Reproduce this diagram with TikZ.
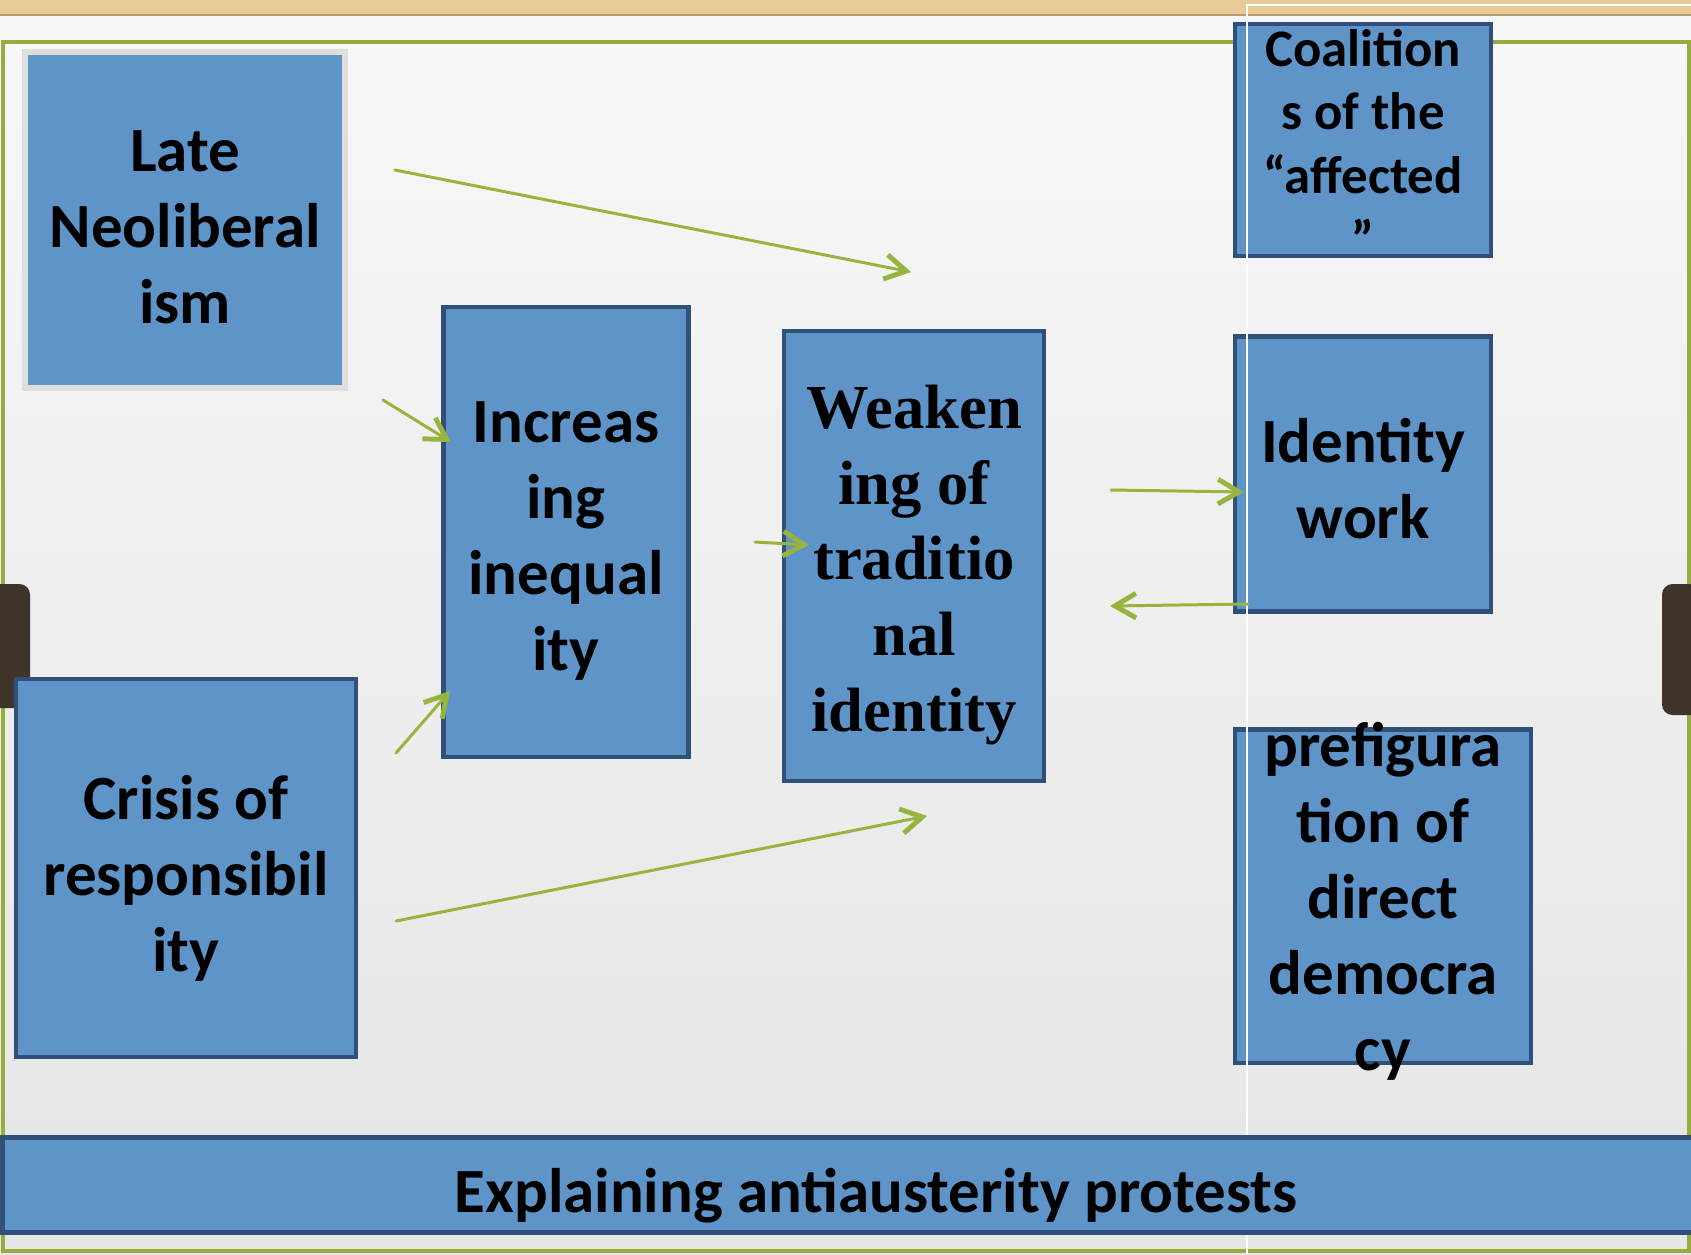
\documentclass[tikz,border=0pt]{standalone}
\usepackage{fontspec}
\setmainfont{Carlito}
\newfontfamily\serifbold{Liberation Serif}
\usetikzlibrary{arrows.meta}

\definecolor{boxfill}{RGB}{95,148,200}
\definecolor{boxedge}{RGB}{48,80,120}
\definecolor{arrowgreen}{RGB}{152,180,62}
\definecolor{framegreen}{RGB}{150,172,60}
\definecolor{tanband}{RGB}{233,203,152}
\definecolor{tanedge}{RGB}{185,155,112}
\definecolor{tabdark}{RGB}{62,52,42}
\definecolor{greyedge}{RGB}{222,222,222}

\tikzset{
  blockbox/.style={draw=boxedge, fill=boxfill, line width=1.2pt, inner sep=0pt},
  blocktext/.style={inner sep=0pt, align=center, yshift=-0.08cm,
    font=\bfseries\fontsize{17.9}{21.6}\selectfont},
  flow/.style={draw=arrowgreen, line width=0.85pt, line cap=round,
    -{Straight Barb[length=6pt,width=7pt,line width=1.4pt]}}
}

\begin{document}
\begin{tikzpicture}[x=0.01cm, y=-0.01cm]
  \useasboundingbox (0,0) rectangle (1691,1254);

  %%%%%%%%%%%%%%%%%%%%%% BACKGROUND %%%%%%%%%%%%%%%%%%%%%%
  \shade[top color=black!3, bottom color=black!10] (0,0) rectangle (1691,1254);
  \fill[tanband] (0,0) rectangle (1691,15);
  \draw[tanedge, line width=0.6pt] (0,15) -- (1691,15);
  \draw[framegreen, line width=0.9pt] (3,1251) -- (3,42) -- (1689,42) -- (1689,1251) -- cycle;
  \fill[tabdark, rounded corners=3pt] (-10,584) rectangle (30,708);
  \fill[tabdark, rounded corners=3pt] (1662,584) rectangle (1700,715);

  %%%%%%%%%%%%%%%%%%%%%% BOXES %%%%%%%%%%%%%%%%%%%%%%
  \node[blockbox, draw=greyedge, line width=1.7pt, minimum width=3.2cm, minimum height=3.35cm]
    (lateneo) at (185,220) {};
  \node[blockbox, minimum width=3.4cm, minimum height=3.78cm] (crisis) at (186,868) {};
  \node[blockbox, minimum width=2.45cm, minimum height=4.5cm] (ineq) at (566,532) {};
  \node[blockbox, minimum width=2.6cm, minimum height=4.49cm] (weaken) at (914,556) {};
  \node[blockbox, minimum width=2.56cm, minimum height=2.32cm] (coalit) at (1363,140) {};
  \node[blockbox, minimum width=2.56cm, minimum height=2.75cm] (identity) at (1363,474) {};
  \node[blockbox, minimum width=2.96cm, minimum height=3.33cm] (prefig) at (1383,896) {};

  \node[blocktext, yshift=0.005cm] (lateneotext) at (lateneo.center) {Late\\Neoliberal\\ism};
  \node[blocktext, yshift=-0.02cm] (crisistext) at (crisis.center) {Crisis of\\responsibil\\ity};
  \node[blocktext, yshift=-0.01cm] (ineqtext) at (ineq.center) {Increas\\ing\\inequal\\ity};
  \node[blocktext, yshift=-0.01cm, font=\serifbold\bfseries\fontsize{17.8}{21.6}\selectfont]
    (weakentext) at (weaken.center) {Weaken\\ing of\\traditio\\nal\\identity};
  \node[blocktext, yshift=0.05cm, font=\bfseries\fontsize{15}{18.1}\selectfont]
    (coalittext) at (coalit.center) {Coalition\\s of the\\“affected\\”};
  \node[blocktext, yshift=0.035cm] (identitytext) at (identity.center) {Identity\\work};
  \node[blocktext, yshift=0.025cm] (prefigtext) at (prefig.center)
    {prefigura\\tion of\\direct\\democra\\cy};

  \draw[white, line width=0.7pt] (1247,1254) -- (1247,5) -- (1700,5);

  \node[blockbox, line width=1.5pt, minimum width=17.46cm, minimum height=0.95cm]
    (banner) at (876,1185) {};
  \node[blocktext, yshift=-0.03cm] (bannertext) at (banner.center) {Explaining antiausterity protests};

  %%%%%%%%%%%%%%%%%%%%%% ARROWS %%%%%%%%%%%%%%%%%%%%%%
  \coordinate (lnA) at (395,170);   \coordinate (lnB) at (911,272);
  \coordinate (lnC) at (383,400);   \coordinate (lnD) at (451,442);
  \coordinate (crA) at (396,753);   \coordinate (crB) at (450,691);
  \coordinate (crC) at (396,921);   \coordinate (crD) at (927,816);
  \coordinate (inA) at (755,542);   \coordinate (inB) at (809,545);
  \coordinate (weA) at (1111,490);  \coordinate (weB) at (1244,492);
  \coordinate (idA) at (1248,604);  \coordinate (idB) at (1110,606);

  \foreach \fromflow/\toflow in {lnA/lnB,lnC/lnD,crA/crB,crC/crD,inA/inB,weA/weB,idA/idB}
    \draw[flow] (\fromflow) -- (\toflow);

\end{tikzpicture}
\end{document}
